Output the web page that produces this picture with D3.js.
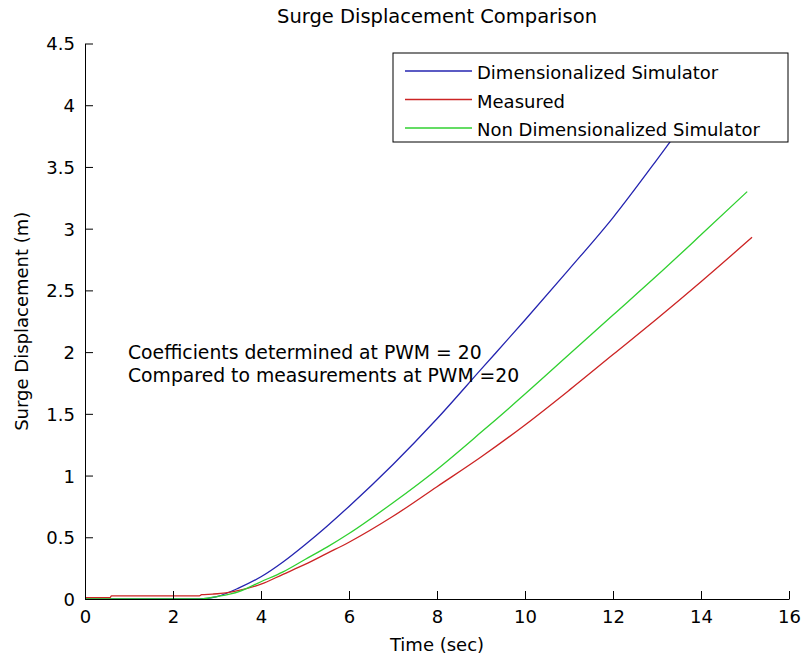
<!DOCTYPE html>
<html>
<head>
<meta charset="utf-8">
<script src="https://cdn.jsdelivr.net/npm/d3@7"></script>
<style>
  body { margin: 0; background: #fff; }
  text { font-family: "DejaVu Sans", sans-serif; fill: #000; }
</style>
</head>
<body>
<div id="chart"></div>
<script>
// values
const xTicks = [0, 2, 4, 6, 8, 10, 12, 14, 16];
const yTicks = [0, 0.5, 1, 1.5, 2, 2.5, 3, 3.5, 4, 4.5];

const dimTime = [0, 2.6, 3, 3.5, 4, 4.5, 5, 5.5, 6, 7, 8, 9, 10, 11, 12, 13, 14, 14.5];
const dimDisp = [0, 0, 0.02, 0.09, 0.18, 0.30, 0.44, 0.59, 0.75, 1.09, 1.46, 1.86, 2.26, 2.67, 3.09, 3.56, 4.05, 4.30];

const measTime = [0, 0.57, 0.6, 2.6, 2.65, 2.9, 3.2, 3.5, 4, 4.5, 5, 5.5, 6, 7, 8, 9, 10, 11, 12, 13, 14, 15.16];
const measDisp = [0.01, 0.01, 0.025, 0.025, 0.035, 0.04, 0.05, 0.07, 0.12, 0.20, 0.28, 0.37, 0.46, 0.67, 0.91, 1.15, 1.41, 1.69, 1.98, 2.27, 2.57, 2.93];

const nonDimTime = [0, 2.6, 3, 3.5, 4, 4.5, 5, 5.5, 6, 7, 8, 9, 10, 11, 12, 13, 14, 15.05];
const nonDimDisp = [0, 0, 0.02, 0.06, 0.14, 0.22, 0.32, 0.42, 0.53, 0.78, 1.05, 1.35, 1.66, 1.98, 2.30, 2.62, 2.95, 3.30];

const seriesNames = ["Dimensionalized Simulator", "Measured", "Non Dimensionalized Simulator"];
const seriesColors = ["#2424b0", "#cc2424", "#30d030"];

const notes = ["Coefficients determined at PWM = 20", "Compared to measurements at PWM =20"];

const margin = {top: 43.5, left: 85, bottom: 60, right: 18};
const width = 807 - margin.left - margin.right;
const height = 659 - margin.top - margin.bottom;

const svg = d3.select("#chart")
  .append("svg")
  .attr("width", 807)
  .attr("height", 659);

const g = svg.append("g")
  .attr("transform", `translate(${margin.left}, ${margin.top})`);

const xScale = d3.scaleLinear().domain([0, 16]).range([0, width]);
const yScale = d3.scaleLinear().domain([0, 4.5]).range([height, 0]);

g.append("clipPath").attr("id", "clip")
  .append("rect").attr("width", width).attr("height", height);

const series = [
  {name: seriesNames[0], color: seriesColors[0], pts: dimTime.map((t, i) => [t, dimDisp[i]])},
  {name: seriesNames[1], color: seriesColors[1], pts: measTime.map((t, i) => [t, measDisp[i]])},
  {name: seriesNames[2], color: seriesColors[2], pts: nonDimTime.map((t, i) => [t, nonDimDisp[i]])}
];

const line = d3.line()
  .x(d => xScale(d[0]))
  .y(d => yScale(d[1]))
  .curve(d3.curveMonotoneX);

g.append("g").attr("clip-path", "url(#clip)")
  .selectAll("path")
  .data(series)
  .enter()
  .append("path")
  .attr("d", d => line(d.pts))
  .attr("fill", "none")
  .attr("stroke", d => d.color)
  .attr("stroke-width", 1.3);

// axes, matlab style ticks pointing inward
const xAxis = d3.axisBottom(xScale)
  .tickValues(xTicks)
  .tickFormat(d => d)
  .tickSizeInner(-8)
  .tickSizeOuter(0)
  .tickPadding(11);

const yAxis = d3.axisLeft(yScale)
  .tickValues(yTicks)
  .tickFormat(d => d)
  .tickSizeInner(-8)
  .tickSizeOuter(0)
  .tickPadding(10);

g.append("g")
  .attr("class", "x-axis")
  .attr("transform", `translate(0, ${height})`)
  .call(xAxis);

g.append("g")
  .attr("class", "y-axis")
  .call(yAxis);

g.selectAll(".x-axis text, .y-axis text")
  .style("font-size", "18px");
g.selectAll(".y-axis text").attr("dy", "0.36em");
g.selectAll(".domain, .tick line").attr("stroke", "#000");

// titles
svg.append("text")
  .attr("x", margin.left + width / 2)
  .attr("y", 23)
  .attr("text-anchor", "middle")
  .style("font-size", "19.5px")
  .text("Surge Displacement Comparison");

svg.append("text")
  .attr("x", margin.left + width / 2)
  .attr("y", 651)
  .attr("text-anchor", "middle")
  .style("font-size", "18px")
  .text("Time (sec)");

svg.append("text")
  .attr("transform", `translate(28, ${margin.top + height / 2}) rotate(-90)`)
  .attr("text-anchor", "middle")
  .style("font-size", "18px")
  .text("Surge Displacement (m)");

// annotation
svg.selectAll(".note")
  .data(notes)
  .enter()
  .append("text")
  .attr("class", "note")
  .attr("x", 128)
  .attr("y", (d, i) => 359 + i * 23)
  .style("font-size", "18.8px")
  .text(d => d);

// legend
const legend = svg.append("g").attr("transform", "translate(393, 53)");
legend.append("rect")
  .attr("width", 395)
  .attr("height", 89)
  .attr("fill", "#fff")
  .attr("stroke", "#000")
  .attr("stroke-width", 1);

const rows = legend.selectAll(".row")
  .data(series)
  .enter()
  .append("g")
  .attr("class", "row")
  .attr("transform", (d, i) => `translate(0, ${18 + i * 28.5})`);

rows.append("line")
  .attr("x1", 12).attr("x2", 79)
  .attr("stroke", d => d.color)
  .attr("stroke-width", 1.3);

rows.append("text")
  .attr("x", 84)
  .attr("y", 8)
  .style("font-size", "18px")
  .text(d => d.name);
</script>
</body>
</html>
